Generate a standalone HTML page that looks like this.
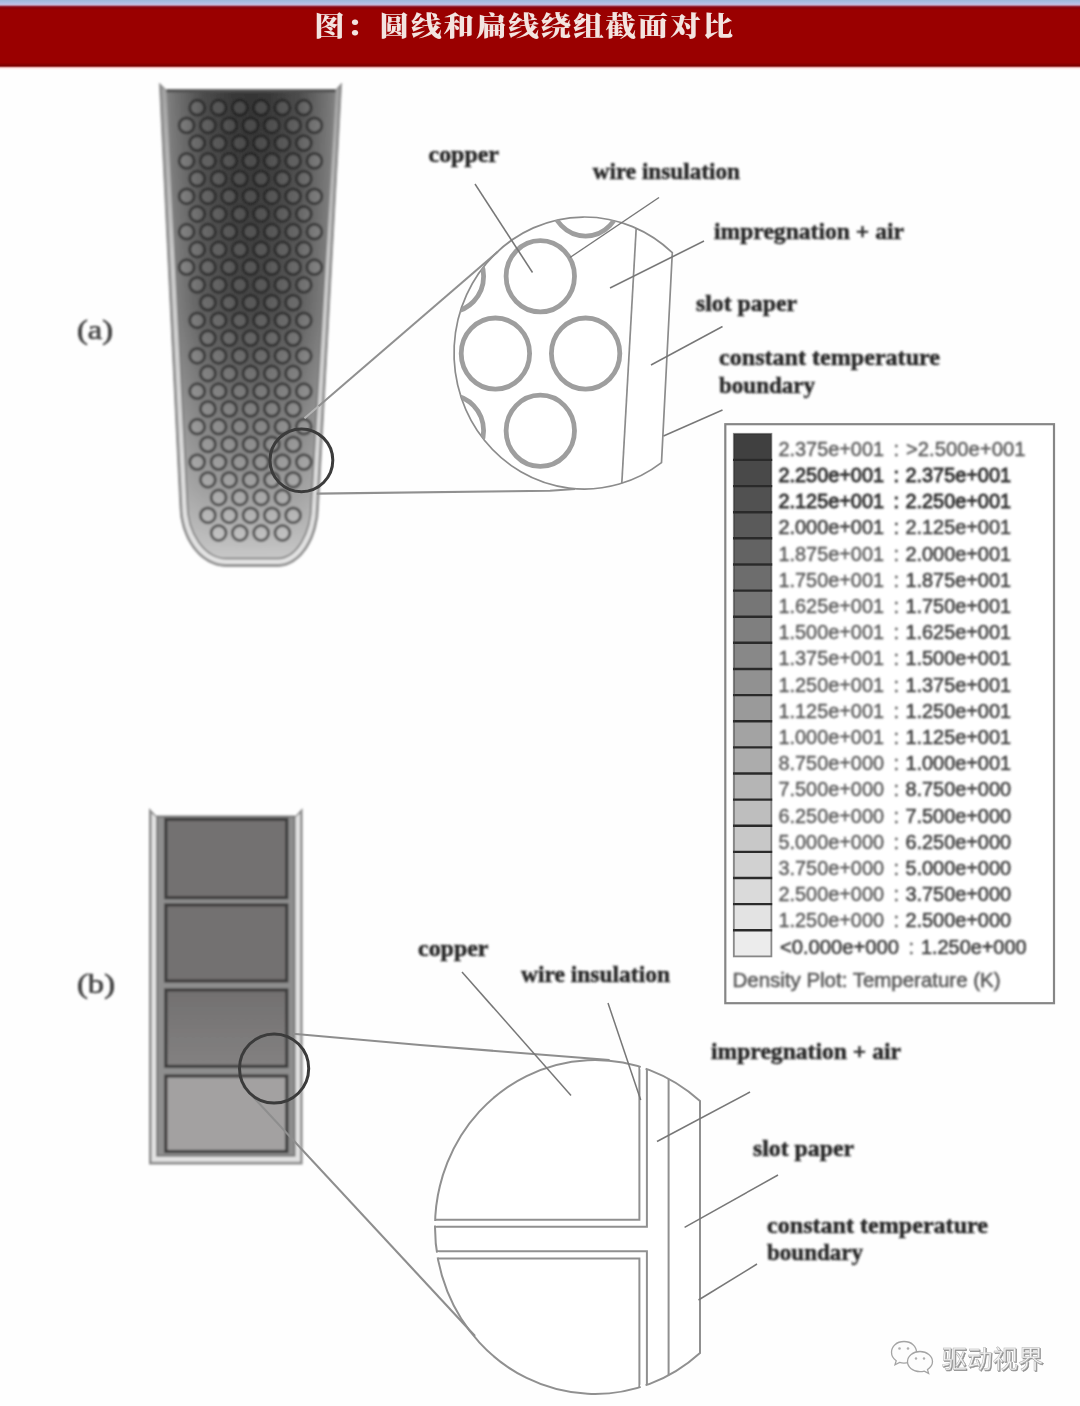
<!DOCTYPE html>
<html lang="zh-CN">
<head>
<meta charset="utf-8">
<title>图：圆线和扁线绕组截面对比</title>
<style>
html,body{margin:0;padding:0;background:#fefefe;}
body{width:1080px;height:1406px;overflow:hidden;position:relative;font-family:"Liberation Serif","Noto Serif CJK SC",serif;}
.strip{position:absolute;left:0;top:0;width:1080px;height:70px;background:linear-gradient(to bottom,#9db8dc 0px,#a9bde3 2px,#bcc0e8 4px,#c3aecb 5px,#a24a66 6px,#8a0a18 7px,#8c0008 8.5px,#9a0000 10px,#9a0000 62.5px,#820000 65px,#7c0000 66px,#c88080 67px,#ffdede 68px,#fff 70px);}
.header{display:none;}
.title{position:absolute;left:314.2px;top:4.7px;width:430px;height:44px;line-height:44px;font-family:"Liberation Serif","Noto Serif CJK SC",serif;font-weight:900;font-size:27.2px;letter-spacing:1.45px;color:#f3e4e0;white-space:nowrap;margin:0;filter:blur(0.5px);transform:scaleX(1.13);transform-origin:0 0;}
svg{position:absolute;left:0;top:0;}
</style>
</head>
<body>
<div class="strip"></div>
<div class="header"></div>
<h1 class="title">图：圆线和扁线绕组截面对比</h1>
<svg width="1080" height="1406" viewBox="0 0 1080 1406">
<defs>
<filter id="soft" x="-2%" y="-2%" width="104%" height="104%"><feGaussianBlur stdDeviation="0.75"/></filter>
<filter id="soft3" x="-5%" y="-30%" width="110%" height="160%"><feGaussianBlur stdDeviation="0.8"/></filter>
<filter id="soft2" x="-5%" y="-5%" width="110%" height="110%"><feGaussianBlur stdDeviation="0.8"/></filter>
<linearGradient id="gc3" x1="0" y1="990" x2="0" y2="1066" gradientUnits="userSpaceOnUse"><stop offset="0" stop-color="#727070"/><stop offset="1" stop-color="#838181"/></linearGradient>
<linearGradient id="gaW" x1="0" y1="85" x2="0" y2="565" gradientUnits="userSpaceOnUse"><stop offset="0" stop-color="#a2a2a2"/><stop offset="0.35" stop-color="#c8c8c8"/><stop offset="1" stop-color="#e4e4e4"/></linearGradient>
<linearGradient id="gaV" x1="0" y1="90" x2="0" y2="560" gradientUnits="userSpaceOnUse">
<stop offset="0" stop-color="#848484"/><stop offset="0.5" stop-color="#949494"/><stop offset="0.85" stop-color="#b4b4b4"/><stop offset="1" stop-color="#cacaca"/>
</linearGradient>
<linearGradient id="gaH" x1="166" y1="0" x2="336" y2="0" gradientUnits="userSpaceOnUse">
<stop offset="0" stop-color="#000" stop-opacity="0.02"/><stop offset="0.07" stop-color="#000" stop-opacity="0.16"/><stop offset="0.22" stop-color="#000" stop-opacity="0.42"/><stop offset="0.4" stop-color="#000" stop-opacity="0.58"/><stop offset="0.5" stop-color="#000" stop-opacity="0.6"/><stop offset="0.6" stop-color="#000" stop-opacity="0.58"/><stop offset="0.78" stop-color="#000" stop-opacity="0.42"/><stop offset="0.93" stop-color="#000" stop-opacity="0.16"/><stop offset="1" stop-color="#000" stop-opacity="0.02"/>
</linearGradient>
<linearGradient id="gmV" x1="0" y1="90" x2="0" y2="560" gradientUnits="userSpaceOnUse">
<stop offset="0" stop-color="#fff"/><stop offset="0.45" stop-color="#ddd"/><stop offset="0.8" stop-color="#555"/><stop offset="1" stop-color="#000"/>
</linearGradient>
<mask id="maV" maskUnits="userSpaceOnUse" x="150" y="80" width="200" height="500"><rect x="150" y="80" width="200" height="500" fill="url(#gmV)"/></mask>
</defs>
<g filter="url(#soft)">
<g filter="url(#soft2)">
<path d="M159.3,83 L166.8,90.5 L335.2,90.5 L341.7,83 L318.6,505 A40.6,61.5 0 0 1 278,566.5 L226,566.5 A46.2,61.5 0 0 1 179.8,505 Z" fill="#8c8c8c" stroke="#999" stroke-width="0.8"/>
<path d="M162,88 L166.8,91 L335.2,91 L339.1,88 L316.2,505 A38.2,59.1 0 0 1 278,564.1 L226,564.1 A43.8,59.1 0 0 1 182.2,505 Z" fill="url(#gaW)"/>
<path d="M167,90.5 L187.3,503 A39.2,55.5 0 0 0 226.5,558.5 L277.5,558.5 A33.8,55.5 0 0 0 311.3,503 L335.2,90.5 Z" fill="url(#gaV)" stroke="#8a8a8a" stroke-width="1.8"/>
<path d="M167,90.5 L187.3,503 A39.2,55.5 0 0 0 226.5,558.5 L277.5,558.5 A33.8,55.5 0 0 0 311.3,503 L335.2,90.5 Z" fill="url(#gaH)" mask="url(#maV)"/>
<rect x="166.5" y="89.3" width="169" height="3" fill="#505050"/>
<g fill="#fff" fill-opacity="0.10" stroke="#141414" stroke-opacity="0.58" stroke-width="3">
<circle cx="197.2" cy="107.7" r="7.4"/>
<circle cx="218.6" cy="107.7" r="7.4"/>
<circle cx="239.8" cy="107.7" r="7.4"/>
<circle cx="261.1" cy="107.7" r="7.4"/>
<circle cx="282.4" cy="107.7" r="7.4"/>
<circle cx="303.8" cy="107.7" r="7.4"/>
<circle cx="186.6" cy="125.4" r="7.4"/>
<circle cx="207.9" cy="125.4" r="7.4"/>
<circle cx="229.2" cy="125.4" r="7.4"/>
<circle cx="250.5" cy="125.4" r="7.4"/>
<circle cx="271.8" cy="125.4" r="7.4"/>
<circle cx="293.1" cy="125.4" r="7.4"/>
<circle cx="314.4" cy="125.4" r="7.4"/>
<circle cx="197.2" cy="143.1" r="7.4"/>
<circle cx="218.6" cy="143.1" r="7.4"/>
<circle cx="239.8" cy="143.1" r="7.4"/>
<circle cx="261.1" cy="143.1" r="7.4"/>
<circle cx="282.4" cy="143.1" r="7.4"/>
<circle cx="303.8" cy="143.1" r="7.4"/>
<circle cx="186.6" cy="160.9" r="7.4"/>
<circle cx="207.9" cy="160.9" r="7.4"/>
<circle cx="229.2" cy="160.9" r="7.4"/>
<circle cx="250.5" cy="160.9" r="7.4"/>
<circle cx="271.8" cy="160.9" r="7.4"/>
<circle cx="293.1" cy="160.9" r="7.4"/>
<circle cx="314.4" cy="160.9" r="7.4"/>
<circle cx="197.2" cy="178.6" r="7.4"/>
<circle cx="218.6" cy="178.6" r="7.4"/>
<circle cx="239.8" cy="178.6" r="7.4"/>
<circle cx="261.1" cy="178.6" r="7.4"/>
<circle cx="282.4" cy="178.6" r="7.4"/>
<circle cx="303.8" cy="178.6" r="7.4"/>
<circle cx="186.6" cy="196.3" r="7.4"/>
<circle cx="207.9" cy="196.3" r="7.4"/>
<circle cx="229.2" cy="196.3" r="7.4"/>
<circle cx="250.5" cy="196.3" r="7.4"/>
<circle cx="271.8" cy="196.3" r="7.4"/>
<circle cx="293.1" cy="196.3" r="7.4"/>
<circle cx="314.4" cy="196.3" r="7.4"/>
<circle cx="197.2" cy="214" r="7.4"/>
<circle cx="218.6" cy="214" r="7.4"/>
<circle cx="239.8" cy="214" r="7.4"/>
<circle cx="261.1" cy="214" r="7.4"/>
<circle cx="282.4" cy="214" r="7.4"/>
<circle cx="303.8" cy="214" r="7.4"/>
<circle cx="186.6" cy="231.7" r="7.4"/>
<circle cx="207.9" cy="231.7" r="7.4"/>
<circle cx="229.2" cy="231.7" r="7.4"/>
<circle cx="250.5" cy="231.7" r="7.4"/>
<circle cx="271.8" cy="231.7" r="7.4"/>
<circle cx="293.1" cy="231.7" r="7.4"/>
<circle cx="314.4" cy="231.7" r="7.4"/>
<circle cx="197.2" cy="249.5" r="7.4"/>
<circle cx="218.6" cy="249.5" r="7.4"/>
<circle cx="239.8" cy="249.5" r="7.4"/>
<circle cx="261.1" cy="249.5" r="7.4"/>
<circle cx="282.4" cy="249.5" r="7.4"/>
<circle cx="303.8" cy="249.5" r="7.4"/>
<circle cx="186.6" cy="267.2" r="7.4"/>
<circle cx="207.9" cy="267.2" r="7.4"/>
<circle cx="229.2" cy="267.2" r="7.4"/>
<circle cx="250.5" cy="267.2" r="7.4"/>
<circle cx="271.8" cy="267.2" r="7.4"/>
<circle cx="293.1" cy="267.2" r="7.4"/>
<circle cx="314.4" cy="267.2" r="7.4"/>
<circle cx="197.2" cy="284.9" r="7.4"/>
<circle cx="218.6" cy="284.9" r="7.4"/>
<circle cx="239.8" cy="284.9" r="7.4"/>
<circle cx="261.1" cy="284.9" r="7.4"/>
<circle cx="282.4" cy="284.9" r="7.4"/>
<circle cx="303.8" cy="284.9" r="7.4"/>
<circle cx="207.9" cy="302.6" r="7.4"/>
<circle cx="229.2" cy="302.6" r="7.4"/>
<circle cx="250.5" cy="302.6" r="7.4"/>
<circle cx="271.8" cy="302.6" r="7.4"/>
<circle cx="293.1" cy="302.6" r="7.4"/>
<circle cx="197.2" cy="320.3" r="7.4"/>
<circle cx="218.6" cy="320.3" r="7.4"/>
<circle cx="239.8" cy="320.3" r="7.4"/>
<circle cx="261.1" cy="320.3" r="7.4"/>
<circle cx="282.4" cy="320.3" r="7.4"/>
<circle cx="303.8" cy="320.3" r="7.4"/>
<circle cx="207.9" cy="338.1" r="7.4"/>
<circle cx="229.2" cy="338.1" r="7.4"/>
<circle cx="250.5" cy="338.1" r="7.4"/>
<circle cx="271.8" cy="338.1" r="7.4"/>
<circle cx="293.1" cy="338.1" r="7.4"/>
<circle cx="197.2" cy="355.8" r="7.4"/>
<circle cx="218.6" cy="355.8" r="7.4"/>
<circle cx="239.8" cy="355.8" r="7.4"/>
<circle cx="261.1" cy="355.8" r="7.4"/>
<circle cx="282.4" cy="355.8" r="7.4"/>
<circle cx="303.8" cy="355.8" r="7.4"/>
<circle cx="207.9" cy="373.5" r="7.4"/>
<circle cx="229.2" cy="373.5" r="7.4"/>
<circle cx="250.5" cy="373.5" r="7.4"/>
<circle cx="271.8" cy="373.5" r="7.4"/>
<circle cx="293.1" cy="373.5" r="7.4"/>
<circle cx="197.2" cy="391.2" r="7.4"/>
<circle cx="218.6" cy="391.2" r="7.4"/>
<circle cx="239.8" cy="391.2" r="7.4"/>
<circle cx="261.1" cy="391.2" r="7.4"/>
<circle cx="282.4" cy="391.2" r="7.4"/>
<circle cx="303.8" cy="391.2" r="7.4"/>
<circle cx="207.9" cy="408.9" r="7.4"/>
<circle cx="229.2" cy="408.9" r="7.4"/>
<circle cx="250.5" cy="408.9" r="7.4"/>
<circle cx="271.8" cy="408.9" r="7.4"/>
<circle cx="293.1" cy="408.9" r="7.4"/>
<circle cx="197.2" cy="426.7" r="7.4"/>
<circle cx="218.6" cy="426.7" r="7.4"/>
<circle cx="239.8" cy="426.7" r="7.4"/>
<circle cx="261.1" cy="426.7" r="7.4"/>
<circle cx="282.4" cy="426.7" r="7.4"/>
<circle cx="303.8" cy="426.7" r="7.4"/>
<circle cx="207.9" cy="444.4" r="7.4"/>
<circle cx="229.2" cy="444.4" r="7.4"/>
<circle cx="250.5" cy="444.4" r="7.4"/>
<circle cx="271.8" cy="444.4" r="7.4"/>
<circle cx="293.1" cy="444.4" r="7.4"/>
<circle cx="197.2" cy="462.1" r="7.4"/>
<circle cx="218.6" cy="462.1" r="7.4"/>
<circle cx="239.8" cy="462.1" r="7.4"/>
<circle cx="261.1" cy="462.1" r="7.4"/>
<circle cx="282.4" cy="462.1" r="7.4"/>
<circle cx="303.8" cy="462.1" r="7.4"/>
<circle cx="207.9" cy="479.8" r="7.4"/>
<circle cx="229.2" cy="479.8" r="7.4"/>
<circle cx="250.5" cy="479.8" r="7.4"/>
<circle cx="271.8" cy="479.8" r="7.4"/>
<circle cx="293.1" cy="479.8" r="7.4"/>
<circle cx="218.6" cy="497.5" r="7.4"/>
<circle cx="239.8" cy="497.5" r="7.4"/>
<circle cx="261.1" cy="497.5" r="7.4"/>
<circle cx="282.4" cy="497.5" r="7.4"/>
<circle cx="207.9" cy="515.3" r="7.4"/>
<circle cx="229.2" cy="515.3" r="7.4"/>
<circle cx="250.5" cy="515.3" r="7.4"/>
<circle cx="271.8" cy="515.3" r="7.4"/>
<circle cx="293.1" cy="515.3" r="7.4"/>
<circle cx="218.6" cy="533" r="7.4"/>
<circle cx="239.8" cy="533" r="7.4"/>
<circle cx="261.1" cy="533" r="7.4"/>
<circle cx="282.4" cy="533" r="7.4"/>
</g>
</g>
<clipPath id="clipA"><ellipse cx="584.3" cy="353" rx="130.3" ry="136"/></clipPath>
<path d="M672.3,252.7 A130.3,136 0 1 0 661.5,462.6 Z" fill="#fff" stroke="#8c8c8c" stroke-width="1.7"/>
<path d="M636.2,228.3 L621.8,483.2" fill="none" stroke="#8c8c8c" stroke-width="1.7"/>
<g clip-path="url(#clipA)" fill="none" stroke="#9e9e9e" stroke-width="4.8">
<ellipse cx="540.3" cy="276.3" rx="34.2" ry="35.6"/>
<ellipse cx="495.4" cy="353.6" rx="34.2" ry="35.6"/>
<ellipse cx="585.6" cy="353.6" rx="34.2" ry="35.6"/>
<ellipse cx="540.3" cy="430.8" rx="34.2" ry="35.6"/>
<ellipse cx="585.6" cy="200.5" rx="34.2" ry="35.6"/>
<ellipse cx="449.4" cy="276.3" rx="34.2" ry="35.6"/>
<ellipse cx="449.4" cy="430.8" rx="34.2" ry="35.6"/>
</g>
<g fill="none" stroke="#909090" stroke-width="2.1">
<path d="M318.5,406.2 L497.8,251.7"/>
<path d="M304.5,418.2 L318.5,406.2" stroke="#b4b4b4"/>
<path d="M316.7,493.6 L550,490.8 L575,489"/>
</g>
<g fill="none" stroke="#777" stroke-width="1.5">
<path d="M475,184 L532.5,272.5"/>
<path d="M659,197.5 L570,257.5"/>
<path d="M704,241 L610,288"/>
<path d="M722.5,326.5 L651,365"/>
<path d="M722.5,410 L663.5,436"/>
</g>
<circle cx="301.4" cy="460.3" r="31.4" fill="none" stroke="#3a3a3a" stroke-width="3"/>
<g filter="url(#soft3)">
<path d="M149,808 L157,816.5 L295,816.5 L302.6,808 L302.6,1164.4 L149,1164.4 Z" fill="#8c8c8c"/>
<path d="M151.6,813.5 L156,817 L296,817 L300,813.5 L300,1161.8 L151.6,1161.8 Z" fill="#e2e2e2"/>
<rect x="157" y="816.5" width="137.6" height="339.3" fill="#8e8e8e" stroke="#757575" stroke-width="1.8"/>
<rect x="165.8" y="819.4" width="121" height="78.3" fill="#737171" stroke="#3e3c3c" stroke-width="3.2"/>
<rect x="165.8" y="904.9" width="121" height="76.1" fill="#737171" stroke="#3e3c3c" stroke-width="3.2"/>
<rect x="165.8" y="989.9" width="121" height="76.5" fill="url(#gc3)" stroke="#3e3c3c" stroke-width="3.2"/>
<rect x="165.8" y="1076" width="121" height="75.5" fill="#a3a1a1" stroke="#3e3c3c" stroke-width="3.2"/>
</g>
<path d="M700,1101 A160,167 0 1 0 700,1353 Z" fill="#fff" stroke="#909090" stroke-width="2"/>
<g fill="none" stroke="#909090" stroke-width="2">
<path d="M668.6,1078.7 L668.6,1375.3"/>
<path d="M639.4,1066.6 L639.4,1219.7 L435.2,1219.7"/>
<path d="M646.9,1069 L646.9,1226.8 L435,1226.8"/>
<path d="M646.9,1385 L646.9,1251.3 L436.7,1251.3"/>
<path d="M639.4,1387.4 L639.4,1258.6 L437.9,1258.6"/>
</g>
<path d="M640.7,1067 L645.6,1068.6" stroke="#fff" stroke-width="4.4" fill="none"/>
<path d="M640.7,1387 L645.6,1385.4" stroke="#fff" stroke-width="4.4" fill="none"/>
<path d="M435.1,1221 L435,1225.5" stroke="#fff" stroke-width="4.4" fill="none"/>
<path d="M436.9,1252.6 L437.7,1257.3" stroke="#fff" stroke-width="4.4" fill="none"/>
<g fill="none" stroke="#8e8e8e" stroke-width="2.1">
<path d="M293,1033.7 L420,1045 L609.6,1060"/>
<path d="M243,1086 L475,1336"/>
</g>
<g fill="none" stroke="#777" stroke-width="1.5">
<path d="M462,972 L571,1095.5"/>
<path d="M608,1003 L640.7,1100"/>
<path d="M750,1092 L657,1141.5"/>
<path d="M778,1175 L684.6,1227.4"/>
<path d="M757,1264 L698.5,1300"/>
</g>
<circle cx="274.1" cy="1068.5" r="34.6" fill="none" stroke="#3a3a3a" stroke-width="3"/>
<rect x="725.3" y="424.2" width="328.7" height="579" fill="#fff" stroke="#868686" stroke-width="2.2"/>
<rect x="733.8" y="433.8" width="37.6" height="26.4" fill="rgb(63,63,63)"/>
<rect x="733.8" y="459.9" width="37.6" height="26.4" fill="rgb(72,72,72)"/>
<rect x="733.8" y="486.1" width="37.6" height="26.4" fill="rgb(81,81,81)"/>
<rect x="733.8" y="512.2" width="37.6" height="26.4" fill="rgb(90,90,90)"/>
<rect x="733.8" y="538.3" width="37.6" height="26.4" fill="rgb(99,99,99)"/>
<rect x="733.8" y="564.5" width="37.6" height="26.4" fill="rgb(109,109,109)"/>
<rect x="733.8" y="590.6" width="37.6" height="26.4" fill="rgb(118,118,118)"/>
<rect x="733.8" y="616.7" width="37.6" height="26.4" fill="rgb(127,127,127)"/>
<rect x="733.8" y="642.8" width="37.6" height="26.4" fill="rgb(136,136,136)"/>
<rect x="733.8" y="669" width="37.6" height="26.4" fill="rgb(145,145,145)"/>
<rect x="733.8" y="695.1" width="37.6" height="26.4" fill="rgb(154,154,154)"/>
<rect x="733.8" y="721.2" width="37.6" height="26.4" fill="rgb(163,163,163)"/>
<rect x="733.8" y="747.4" width="37.6" height="26.4" fill="rgb(172,172,172)"/>
<rect x="733.8" y="773.5" width="37.6" height="26.4" fill="rgb(181,181,181)"/>
<rect x="733.8" y="799.6" width="37.6" height="26.4" fill="rgb(190,190,190)"/>
<rect x="733.8" y="825.8" width="37.6" height="26.4" fill="rgb(200,200,200)"/>
<rect x="733.8" y="851.9" width="37.6" height="26.4" fill="rgb(209,209,209)"/>
<rect x="733.8" y="878" width="37.6" height="26.4" fill="rgb(218,218,218)"/>
<rect x="733.8" y="904.1" width="37.6" height="26.4" fill="rgb(227,227,227)"/>
<rect x="733.8" y="930.3" width="37.6" height="26.4" fill="rgb(236,236,236)"/>
<path d="M733,459.9 H772.2" stroke="#2c2c2c" stroke-width="2.4"/>
<path d="M733,486.1 H772.2" stroke="#2c2c2c" stroke-width="2.4"/>
<path d="M733,512.2 H772.2" stroke="#2c2c2c" stroke-width="2.4"/>
<path d="M733,538.3 H772.2" stroke="#2c2c2c" stroke-width="2.4"/>
<path d="M733,564.5 H772.2" stroke="#2c2c2c" stroke-width="2.4"/>
<path d="M733,590.6 H772.2" stroke="#2c2c2c" stroke-width="2.4"/>
<path d="M733,616.7 H772.2" stroke="#2c2c2c" stroke-width="2.4"/>
<path d="M733,642.8 H772.2" stroke="#2c2c2c" stroke-width="2.4"/>
<path d="M733,669 H772.2" stroke="#2c2c2c" stroke-width="2.4"/>
<path d="M733,695.1 H772.2" stroke="#2c2c2c" stroke-width="2.4"/>
<path d="M733,721.2 H772.2" stroke="#2c2c2c" stroke-width="2.4"/>
<path d="M733,747.4 H772.2" stroke="#2c2c2c" stroke-width="2.4"/>
<path d="M733,773.5 H772.2" stroke="#2c2c2c" stroke-width="2.4"/>
<path d="M733,799.6 H772.2" stroke="#2c2c2c" stroke-width="2.4"/>
<path d="M733,825.8 H772.2" stroke="#2c2c2c" stroke-width="2.4"/>
<path d="M733,851.9 H772.2" stroke="#2c2c2c" stroke-width="2.4"/>
<path d="M733,878 H772.2" stroke="#2c2c2c" stroke-width="2.4"/>
<path d="M733,904.1 H772.2" stroke="#2c2c2c" stroke-width="2.4"/>
<path d="M733,930.3 H772.2" stroke="#2c2c2c" stroke-width="2.4"/>
<rect x="733.8" y="433.8" width="37.6" height="522.6" fill="none" stroke="#303030" stroke-opacity="0.55" stroke-width="1.8"/>
<g font-family="'Liberation Sans',sans-serif" font-size="20" fill="#555" stroke="#555" stroke-width="0.35" filter="url(#soft3)">
<text x="778.5" y="455.7" textLength="105.5" lengthAdjust="spacingAndGlyphs">2.375e+001</text>
<text x="893.5" y="455.7">:</text>
<text x="906" y="455.7" textLength="119.5" lengthAdjust="spacingAndGlyphs">&gt;2.500e+001</text>
<text x="778.5" y="481.9" textLength="105.5" lengthAdjust="spacingAndGlyphs" fill="#2a2a2a" stroke="#2a2a2a" stroke-width="0.8">2.250e+001</text>
<text x="893.5" y="481.9" fill="#2a2a2a" stroke="#2a2a2a" stroke-width="0.8">:</text>
<text x="905.5" y="481.9" textLength="105.5" lengthAdjust="spacingAndGlyphs" fill="#2a2a2a" stroke="#2a2a2a" stroke-width="0.8">2.375e+001</text>
<text x="778.5" y="508.1" textLength="105.5" lengthAdjust="spacingAndGlyphs" fill="#2a2a2a" stroke="#2a2a2a" stroke-width="0.8">2.125e+001</text>
<text x="893.5" y="508.1" fill="#2a2a2a" stroke="#2a2a2a" stroke-width="0.8">:</text>
<text x="905.5" y="508.1" textLength="105.5" lengthAdjust="spacingAndGlyphs" fill="#2a2a2a" stroke="#2a2a2a" stroke-width="0.8">2.250e+001</text>
<text x="778.5" y="534.3" textLength="105.5" lengthAdjust="spacingAndGlyphs" fill="#3e3e3e" stroke="#3e3e3e" stroke-width="0.55">2.000e+001</text>
<text x="893.5" y="534.3" fill="#3e3e3e" stroke="#3e3e3e" stroke-width="0.55">:</text>
<text x="905.5" y="534.3" textLength="105.5" lengthAdjust="spacingAndGlyphs" fill="#3e3e3e" stroke="#3e3e3e" stroke-width="0.55">2.125e+001</text>
<text x="778.5" y="560.5" textLength="105.5" lengthAdjust="spacingAndGlyphs">1.875e+001</text>
<text x="893.5" y="560.5">:</text>
<text x="905.5" y="560.5" textLength="105.5" lengthAdjust="spacingAndGlyphs" fill="#3e3e3e" stroke="#3e3e3e" stroke-width="0.55">2.000e+001</text>
<text x="778.5" y="586.7" textLength="105.5" lengthAdjust="spacingAndGlyphs">1.750e+001</text>
<text x="893.5" y="586.7">:</text>
<text x="905.5" y="586.7" textLength="105.5" lengthAdjust="spacingAndGlyphs" fill="#3e3e3e" stroke="#3e3e3e" stroke-width="0.55">1.875e+001</text>
<text x="778.5" y="612.9" textLength="105.5" lengthAdjust="spacingAndGlyphs">1.625e+001</text>
<text x="893.5" y="612.9">:</text>
<text x="905.5" y="612.9" textLength="105.5" lengthAdjust="spacingAndGlyphs" fill="#3e3e3e" stroke="#3e3e3e" stroke-width="0.55">1.750e+001</text>
<text x="778.5" y="639.1" textLength="105.5" lengthAdjust="spacingAndGlyphs">1.500e+001</text>
<text x="893.5" y="639.1">:</text>
<text x="905.5" y="639.1" textLength="105.5" lengthAdjust="spacingAndGlyphs" fill="#3e3e3e" stroke="#3e3e3e" stroke-width="0.55">1.625e+001</text>
<text x="778.5" y="665.3" textLength="105.5" lengthAdjust="spacingAndGlyphs">1.375e+001</text>
<text x="893.5" y="665.3">:</text>
<text x="905.5" y="665.3" textLength="105.5" lengthAdjust="spacingAndGlyphs" fill="#3e3e3e" stroke="#3e3e3e" stroke-width="0.55">1.500e+001</text>
<text x="778.5" y="691.5" textLength="105.5" lengthAdjust="spacingAndGlyphs">1.250e+001</text>
<text x="893.5" y="691.5">:</text>
<text x="905.5" y="691.5" textLength="105.5" lengthAdjust="spacingAndGlyphs" fill="#3e3e3e" stroke="#3e3e3e" stroke-width="0.55">1.375e+001</text>
<text x="778.5" y="717.7" textLength="105.5" lengthAdjust="spacingAndGlyphs">1.125e+001</text>
<text x="893.5" y="717.7">:</text>
<text x="905.5" y="717.7" textLength="105.5" lengthAdjust="spacingAndGlyphs" fill="#3e3e3e" stroke="#3e3e3e" stroke-width="0.55">1.250e+001</text>
<text x="778.5" y="743.9" textLength="105.5" lengthAdjust="spacingAndGlyphs">1.000e+001</text>
<text x="893.5" y="743.9">:</text>
<text x="905.5" y="743.9" textLength="105.5" lengthAdjust="spacingAndGlyphs" fill="#3e3e3e" stroke="#3e3e3e" stroke-width="0.55">1.125e+001</text>
<text x="778.5" y="770.1" textLength="105.5" lengthAdjust="spacingAndGlyphs">8.750e+000</text>
<text x="893.5" y="770.1">:</text>
<text x="905.5" y="770.1" textLength="105.5" lengthAdjust="spacingAndGlyphs" fill="#3e3e3e" stroke="#3e3e3e" stroke-width="0.55">1.000e+001</text>
<text x="778.5" y="796.3" textLength="105.5" lengthAdjust="spacingAndGlyphs">7.500e+000</text>
<text x="893.5" y="796.3">:</text>
<text x="905.5" y="796.3" textLength="105.5" lengthAdjust="spacingAndGlyphs" fill="#3e3e3e" stroke="#3e3e3e" stroke-width="0.55">8.750e+000</text>
<text x="778.5" y="822.5" textLength="105.5" lengthAdjust="spacingAndGlyphs">6.250e+000</text>
<text x="893.5" y="822.5">:</text>
<text x="905.5" y="822.5" textLength="105.5" lengthAdjust="spacingAndGlyphs" fill="#3e3e3e" stroke="#3e3e3e" stroke-width="0.55">7.500e+000</text>
<text x="778.5" y="848.7" textLength="105.5" lengthAdjust="spacingAndGlyphs">5.000e+000</text>
<text x="893.5" y="848.7">:</text>
<text x="905.5" y="848.7" textLength="105.5" lengthAdjust="spacingAndGlyphs" fill="#3e3e3e" stroke="#3e3e3e" stroke-width="0.55">6.250e+000</text>
<text x="778.5" y="874.9" textLength="105.5" lengthAdjust="spacingAndGlyphs">3.750e+000</text>
<text x="893.5" y="874.9">:</text>
<text x="905.5" y="874.9" textLength="105.5" lengthAdjust="spacingAndGlyphs" fill="#3e3e3e" stroke="#3e3e3e" stroke-width="0.55">5.000e+000</text>
<text x="778.5" y="901.1" textLength="105.5" lengthAdjust="spacingAndGlyphs">2.500e+000</text>
<text x="893.5" y="901.1">:</text>
<text x="905.5" y="901.1" textLength="105.5" lengthAdjust="spacingAndGlyphs" fill="#3e3e3e" stroke="#3e3e3e" stroke-width="0.55">3.750e+000</text>
<text x="778.5" y="927.3" textLength="105.5" lengthAdjust="spacingAndGlyphs">1.250e+000</text>
<text x="893.5" y="927.3">:</text>
<text x="905.5" y="927.3" textLength="105.5" lengthAdjust="spacingAndGlyphs" fill="#3e3e3e" stroke="#3e3e3e" stroke-width="0.55">2.500e+000</text>
<text x="780" y="953.5" textLength="119" lengthAdjust="spacingAndGlyphs" fill="#3e3e3e" stroke="#3e3e3e" stroke-width="0.55">&lt;0.000e+000</text>
<text x="908.5" y="953.5">:</text>
<text x="921" y="953.5" textLength="105.5" lengthAdjust="spacingAndGlyphs" fill="#3e3e3e" stroke="#3e3e3e" stroke-width="0.55">1.250e+000</text>
<text x="732.5" y="986.8" textLength="268" lengthAdjust="spacingAndGlyphs" stroke-width="0.5">Density Plot: Temperature (K)</text>
</g>
<g font-family="'Liberation Serif',serif" font-weight="bold" font-size="23.5" fill="#262626" stroke="#262626" stroke-width="0.45" filter="url(#soft3)">
<text x="428.5" y="162" textLength="70.5" lengthAdjust="spacingAndGlyphs">copper</text>
<text x="592.7" y="179" textLength="147.3" lengthAdjust="spacingAndGlyphs">wire insulation</text>
<text x="714" y="239.3" textLength="190" lengthAdjust="spacingAndGlyphs">impregnation + air</text>
<text x="696" y="311.3" textLength="101" lengthAdjust="spacingAndGlyphs">slot paper</text>
<text x="719" y="365" textLength="221" lengthAdjust="spacingAndGlyphs">constant temperature</text>
<text x="719" y="393" textLength="96" lengthAdjust="spacingAndGlyphs">boundary</text>
<text x="418" y="955.8" textLength="70.5" lengthAdjust="spacingAndGlyphs">copper</text>
<text x="521" y="982" textLength="149" lengthAdjust="spacingAndGlyphs">wire insulation</text>
<text x="711" y="1059.3" textLength="190" lengthAdjust="spacingAndGlyphs">impregnation + air</text>
<text x="753" y="1155.5" textLength="101" lengthAdjust="spacingAndGlyphs">slot paper</text>
<text x="767" y="1232.5" textLength="221" lengthAdjust="spacingAndGlyphs">constant temperature</text>
<text x="767" y="1260.3" textLength="96" lengthAdjust="spacingAndGlyphs">boundary</text>
</g>
<g font-family="'Liberation Serif',serif" font-size="27" fill="#444" stroke="#444" stroke-width="0.7" filter="url(#soft3)">
<text x="77" y="338.5" textLength="36" lengthAdjust="spacingAndGlyphs">(a)</text>
<text x="77" y="993" textLength="38" lengthAdjust="spacingAndGlyphs">(b)</text>
</g>
<g fill="#fdfdfd" stroke="#a4a4a4" stroke-width="1.3">
<path d="M904,1341.5 C896.5,1341.5 891.5,1346.3 891.5,1352.3 C891.5,1355.8 893.3,1358.7 896.2,1360.7 L895,1364.8 L899.6,1362.4 C901,1362.9 902.4,1363.1 904,1363.1 C911.5,1363.1 916.5,1358.3 916.5,1352.3 C916.5,1346.3 911.5,1341.5 904,1341.5 Z"/>
<path d="M920,1351.5 C913,1351.5 907.5,1356 907.5,1361.6 C907.5,1367.2 913,1371.7 920,1371.7 C921.5,1371.7 923,1371.5 924.3,1371.1 L928.6,1373.4 L927.5,1369.6 C930.5,1367.7 932.5,1364.9 932.5,1361.6 C932.5,1356 927,1351.5 920,1351.5 Z"/>
</g>
<g fill="#b0b0b0"><circle cx="899.5" cy="1348.5" r="1.3"/><circle cx="908" cy="1348.5" r="1.3"/><circle cx="916" cy="1358.5" r="1.2"/><circle cx="924" cy="1358.5" r="1.2"/></g>
<text x="941.5" y="1367.5" textLength="102" lengthAdjust="spacingAndGlyphs" font-family="'Liberation Sans','Noto Sans CJK SC',sans-serif" font-size="25.5" fill="#f4f4f4" stroke="#b4b4b4" stroke-width="0.5" style="filter:drop-shadow(1px 1px 0.4px #8f8f8f)">驱动视界</text>
</g>
</svg>
</body>
</html>
